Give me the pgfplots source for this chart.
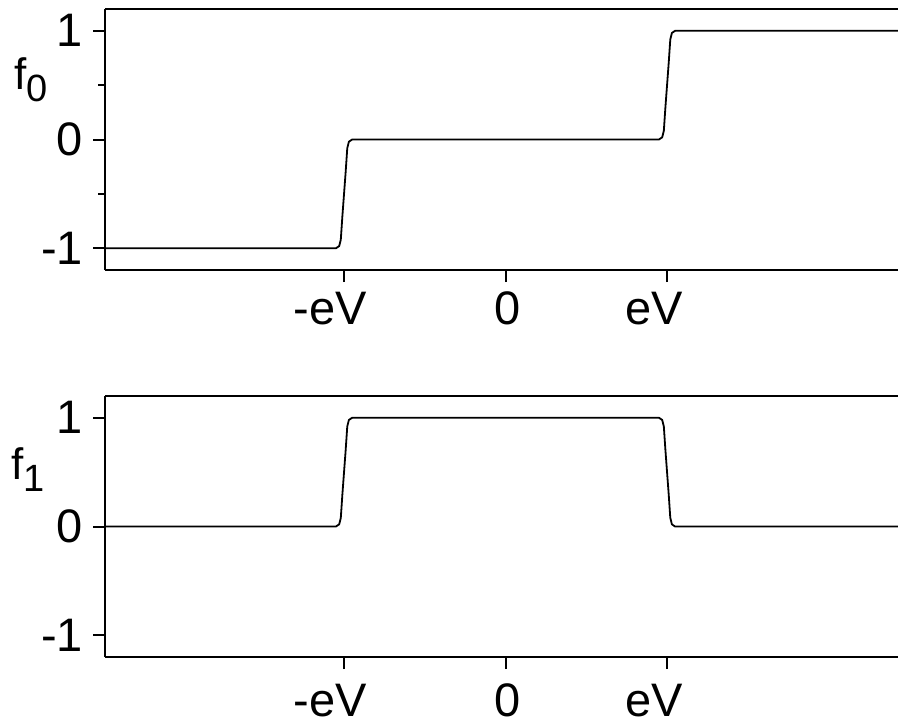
\documentclass[border=0pt]{standalone}
\usepackage{fontspec}
\setmainfont{Liberation Sans}
\usepackage{pgfplots}
\pgfplotsset{compat=1.18}
\pgfplotsset{
  every non boxed y axis/.style={},
  common/.style={
    scale only axis, width=396.5pt, height=130.5pt,
    xmin=-2.48, xmax=2.43, ymin=-1.2, ymax=1.2,
    separate axis lines,
    axis x line=box, axis y line=left,
    axis line style={line width=1.2pt},
    y axis line style={-},
    tick align=outside, xtick pos=bottom, ytick pos=left,
    major tick length=6pt, minor tick length=3.5pt,
    every tick/.style={line width=1pt, black},
    xtick={-1,0,1},
    xticklabels={\hspace*{-14pt}-eV,\hspace*{2pt}0,\hspace*{-13pt}eV},
    ytick={-1,0,1}, yticklabels={-1,0,1},
    tick label style={font=\fontsize{23.5}{27}\selectfont},
    yticklabel style={xshift=-1.5pt},
    /pgf/number format/assume math mode=true,
    clip=false,
  },
}
\begin{document}
\begin{tikzpicture}
\begin{axis}[common, at={(52.5pt,-135pt)}, anchor=south west,
  minor ytick={-0.5,0.5}, xticklabel style={yshift=-1.5pt}]
\addplot[black, line width=0.9pt, line join=round] coordinates {
(-2.48,-1) (-1.05,-1) (-1.03,-0.98) (-1.02,-0.92) (-1.01,-0.7) (-1.0,-0.5)
(-0.99,-0.3) (-0.98,-0.08) (-0.97,-0.02) (-0.95,0) (0.95,0) (0.97,0.02)
(0.98,0.08) (0.99,0.3) (1.0,0.5) (1.01,0.7) (1.02,0.92) (1.03,0.98) (1.05,1) (2.43,1)};
\node[font=\fontsize{22}{26}\selectfont] at (axis description cs:-0.093,0.73)
  {f\raisebox{-6pt}{\fontsize{19}{22}\selectfont 0}};
\end{axis}
\begin{axis}[common, at={(52.5pt,-328.5pt)}, anchor=south west,
  xticklabel style={yshift=-4pt}]
\addplot[black, line width=0.9pt, line join=round] coordinates {
(-2.48,0) (-1.05,0) (-1.03,0.02) (-1.02,0.08) (-1.01,0.3) (-1.0,0.5)
(-0.99,0.7) (-0.98,0.92) (-0.97,0.98) (-0.95,1) (0.95,1) (0.97,0.98)
(0.98,0.92) (0.99,0.7) (1.0,0.5) (1.01,0.3) (1.02,0.08) (1.03,0.02) (1.05,0) (2.43,0)};
\node[font=\fontsize{22}{26}\selectfont] at (axis description cs:-0.097,0.72)
  {f\raisebox{-6pt}{\fontsize{19}{22}\selectfont 1}};
\end{axis}
\pgfresetboundingbox
\path[use as bounding box] (0pt,-362.5pt) rectangle (449pt,0pt);
\end{tikzpicture}
\end{document}
